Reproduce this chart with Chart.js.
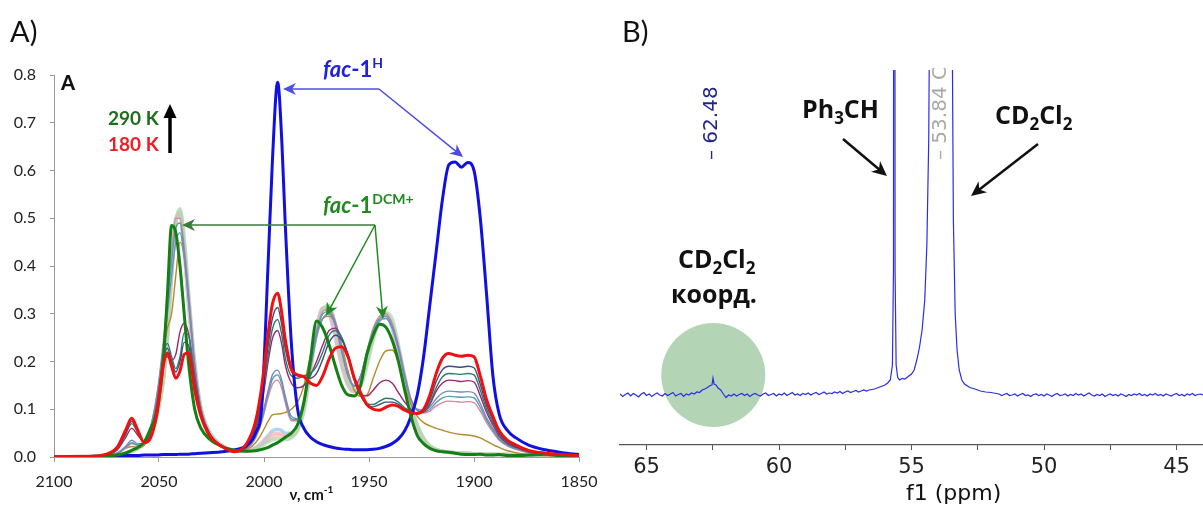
<!DOCTYPE html>
<html>
<head>
<meta charset="utf-8">
<script src="https://cdn.jsdelivr.net/npm/chart.js@4.4.1/dist/chart.umd.min.js"></script>
<style>
    html, body { margin: 0; padding: 0; background: #fff; }
    #wrap { position: relative; width: 1203px; height: 506px; overflow: hidden; }
    #irBox { position: absolute; left: 0; top: 0; width: 600px; height: 506px; }
    #nmrBox { position: absolute; left: 600px; top: 0; width: 603px; height: 506px; }
</style>
</head>
<body>
<div id="wrap">
    <div id="irBox"><canvas id="irChart"></canvas></div>
    <div id="nmrBox"><canvas id="nmrChart"></canvas></div>
</div>
<script>
// --- A) IR spectra: absorbance vs wavenumber (cm-1) ---
const wavenumbers = [2100, 2085, 2075, 2070, 2066, 2063, 2060, 2057, 2054, 2051,
    2048, 2046, 2044, 2042, 2040, 2038, 2036, 2033, 2030, 2026,
    2020, 2014, 2008, 2004, 2001, 1998, 1996, 1993.5, 1991.5, 1990,
    1987, 1984, 1981, 1978, 1975, 1972, 1969, 1966, 1963, 1960,
    1957, 1954, 1951, 1948, 1945, 1942, 1939, 1936, 1933, 1930,
    1927, 1924, 1921, 1918, 1915, 1912, 1909, 1906, 1903, 1900,
    1897, 1894, 1891, 1888, 1884, 1880, 1874, 1866, 1858, 1850];

// fac-1H (blue)
const irFac1H = [0, 0.001, 0.002, 0.002, 0.003, 0.003, 0.003, 0.004, 0.004, 0.004,
    0.005, 0.005, 0.005, 0.005, 0.006, 0.006, 0.006, 0.007, 0.008, 0.009,
    0.011, 0.015, 0.025, 0.05, 0.11, 0.41, 0.62, 0.785, 0.66, 0.5,
    0.24, 0.1, 0.06, 0.042, 0.032, 0.026, 0.022, 0.019, 0.017, 0.016,
    0.015, 0.015, 0.015, 0.016, 0.018, 0.022, 0.028, 0.038, 0.055, 0.085,
    0.13, 0.21, 0.32, 0.43, 0.54, 0.612, 0.618, 0.607, 0.617, 0.6,
    0.5, 0.34, 0.17, 0.09, 0.055, 0.04, 0.025, 0.015, 0.009, 0.005];

// 290 K (green)
const ir290K = [0, 0.001, 0.002, 0.004, 0.008, 0.014, 0.02, 0.032, 0.06, 0.095,
    0.2, 0.34, 0.485, 0.47, 0.4, 0.3, 0.2, 0.1, 0.06, 0.038,
    0.022, 0.014, 0.012, 0.013, 0.016, 0.02, 0.025, 0.03, 0.036, 0.041,
    0.05, 0.068, 0.115, 0.2, 0.285, 0.27, 0.235, 0.19, 0.15, 0.13,
    0.128, 0.15, 0.215, 0.255, 0.278, 0.272, 0.245, 0.2, 0.14, 0.085,
    0.045, 0.028, 0.018, 0.013, 0.011, 0.01, 0.008, 0.006, 0.005, 0.005,
    0.006, 0.004, 0.004, 0.005, 0.003, 0.003, 0.004, 0.006, 0.002, 0.002];

// 180 K (red)
const ir180K = [0, 0.001, 0.006, 0.02, 0.055, 0.081, 0.055, 0.03, 0.04, 0.09,
    0.19, 0.218, 0.19, 0.165, 0.18, 0.215, 0.218, 0.14, 0.085, 0.045,
    0.022, 0.011, 0.03, 0.075, 0.15, 0.26, 0.32, 0.343, 0.3, 0.25,
    0.185, 0.172, 0.168, 0.155, 0.15, 0.17, 0.205, 0.228, 0.231, 0.21,
    0.165, 0.135, 0.11, 0.1, 0.098, 0.104, 0.109, 0.106, 0.098, 0.093,
    0.091, 0.1, 0.13, 0.175, 0.207, 0.217, 0.213, 0.211, 0.213, 0.21,
    0.17, 0.12, 0.085, 0.055, 0.035, 0.025, 0.014, 0.008, 0.005, 0.003];

// intermediate temperatures (thin lines)
const irSlate = [0, 0.001, 0.005, 0.018, 0.05, 0.075, 0.052, 0.03, 0.042, 0.095,
    0.2, 0.228, 0.2, 0.178, 0.2, 0.24, 0.235, 0.15, 0.088, 0.046,
    0.022, 0.011, 0.026, 0.065, 0.13, 0.235, 0.29, 0.313, 0.275, 0.23,
    0.18, 0.17, 0.168, 0.165, 0.175, 0.205, 0.24, 0.255, 0.245, 0.215,
    0.165, 0.13, 0.11, 0.105, 0.11, 0.115, 0.115, 0.11, 0.1, 0.094,
    0.091, 0.097, 0.12, 0.158, 0.183, 0.19, 0.189, 0.188, 0.19, 0.187,
    0.152, 0.108, 0.078, 0.05, 0.032, 0.022, 0.013, 0.007, 0.004, 0.002];
const irTealDark = [0, 0.001, 0.005, 0.016, 0.046, 0.07, 0.05, 0.03, 0.045, 0.1,
    0.21, 0.238, 0.21, 0.185, 0.21, 0.26, 0.255, 0.16, 0.09, 0.047,
    0.022, 0.011, 0.024, 0.06, 0.12, 0.215, 0.268, 0.288, 0.255, 0.21,
    0.17, 0.165, 0.17, 0.175, 0.19, 0.22, 0.255, 0.265, 0.25, 0.215,
    0.165, 0.128, 0.112, 0.11, 0.117, 0.123, 0.122, 0.115, 0.103, 0.095,
    0.091, 0.095, 0.113, 0.145, 0.168, 0.175, 0.174, 0.173, 0.175, 0.172,
    0.14, 0.1, 0.072, 0.047, 0.03, 0.021, 0.012, 0.007, 0.004, 0.002];
const irPurple = [0, 0.001, 0.004, 0.014, 0.04, 0.06, 0.045, 0.032, 0.05, 0.11,
    0.2, 0.21, 0.203, 0.215, 0.262, 0.28, 0.26, 0.17, 0.095, 0.05,
    0.023, 0.012, 0.022, 0.055, 0.11, 0.2, 0.248, 0.265, 0.235, 0.195,
    0.155, 0.145, 0.15, 0.17, 0.2, 0.235, 0.265, 0.27, 0.25, 0.21,
    0.16, 0.13, 0.128, 0.14, 0.155, 0.161, 0.155, 0.135, 0.115, 0.1,
    0.092, 0.094, 0.11, 0.138, 0.155, 0.161, 0.16, 0.158, 0.16, 0.157,
    0.128, 0.093, 0.067, 0.044, 0.028, 0.02, 0.011, 0.006, 0.004, 0.002];
const irLavender = [0, 0.001, 0.003, 0.008, 0.022, 0.035, 0.028, 0.03, 0.06, 0.12,
    0.22, 0.3, 0.38, 0.45, 0.47, 0.42, 0.33, 0.19, 0.1, 0.05,
    0.022, 0.012, 0.02, 0.045, 0.085, 0.14, 0.172, 0.182, 0.16, 0.13,
    0.085, 0.08, 0.11, 0.18, 0.25, 0.29, 0.3, 0.275, 0.22, 0.17,
    0.15, 0.17, 0.215, 0.26, 0.285, 0.29, 0.27, 0.225, 0.165, 0.12,
    0.1, 0.098, 0.105, 0.122, 0.134, 0.138, 0.137, 0.136, 0.137, 0.134,
    0.112, 0.082, 0.06, 0.04, 0.026, 0.018, 0.01, 0.006, 0.003, 0.002];
const irTeal = [0, 0.001, 0.003, 0.007, 0.02, 0.03, 0.025, 0.03, 0.062, 0.125,
    0.23, 0.32, 0.41, 0.48, 0.49, 0.43, 0.34, 0.19, 0.1, 0.05,
    0.022, 0.012, 0.019, 0.042, 0.08, 0.133, 0.163, 0.172, 0.152, 0.123,
    0.08, 0.078, 0.115, 0.19, 0.26, 0.3, 0.305, 0.28, 0.225, 0.17,
    0.148, 0.17, 0.22, 0.265, 0.29, 0.295, 0.275, 0.23, 0.17, 0.12,
    0.098, 0.094, 0.1, 0.114, 0.124, 0.127, 0.126, 0.125, 0.126, 0.124,
    0.104, 0.077, 0.056, 0.037, 0.024, 0.017, 0.01, 0.006, 0.003, 0.002];
const irPink = [0, 0.001, 0.003, 0.006, 0.018, 0.028, 0.024, 0.03, 0.064, 0.13,
    0.24, 0.33, 0.43, 0.5, 0.5, 0.44, 0.35, 0.2, 0.1, 0.05,
    0.022, 0.012, 0.018, 0.04, 0.075, 0.125, 0.152, 0.161, 0.143, 0.116,
    0.076, 0.076, 0.118, 0.195, 0.265, 0.305, 0.31, 0.285, 0.23, 0.172,
    0.147, 0.168, 0.222, 0.27, 0.295, 0.3, 0.28, 0.235, 0.175, 0.122,
    0.097, 0.092, 0.096, 0.107, 0.114, 0.117, 0.116, 0.115, 0.116, 0.114,
    0.096, 0.072, 0.052, 0.035, 0.023, 0.016, 0.009, 0.005, 0.003, 0.002];
const irBrown = [0, 0.001, 0.003, 0.008, 0.018, 0.022, 0.02, 0.025, 0.06, 0.13,
    0.22, 0.27, 0.3, 0.38, 0.45, 0.42, 0.33, 0.19, 0.1, 0.05,
    0.022, 0.012, 0.016, 0.03, 0.05, 0.075, 0.088, 0.09, 0.091, 0.093,
    0.1, 0.115, 0.15, 0.21, 0.26, 0.29, 0.295, 0.28, 0.235, 0.18,
    0.14, 0.127, 0.13, 0.165, 0.2, 0.222, 0.224, 0.2, 0.15, 0.11,
    0.085, 0.072, 0.065, 0.06, 0.056, 0.052, 0.049, 0.047, 0.046, 0.044,
    0.04, 0.033, 0.026, 0.02, 0.013, 0.009, 0.005, 0.003, 0.002, 0.001];
// near-290 K spectra (pale, wide lines)
const irPaleBlue = [0, 0.001, 0.002, 0.004, 0.008, 0.013, 0.02, 0.03, 0.052, 0.095,
    0.17, 0.27, 0.4, 0.5, 0.505, 0.43, 0.32, 0.18, 0.095, 0.05,
    0.023, 0.013, 0.013, 0.02, 0.03, 0.045, 0.055, 0.058, 0.055, 0.05,
    0.05, 0.065, 0.11, 0.19, 0.27, 0.31, 0.3, 0.25, 0.19, 0.15,
    0.137, 0.155, 0.205, 0.255, 0.29, 0.295, 0.27, 0.21, 0.15, 0.1,
    0.06, 0.035, 0.022, 0.015, 0.012, 0.01, 0.009, 0.008, 0.008, 0.007,
    0.007, 0.006, 0.006, 0.005, 0.005, 0.004, 0.004, 0.003, 0.002, 0.002];
const irPalePeach = [0, 0.001, 0.002, 0.004, 0.008, 0.012, 0.018, 0.028, 0.048, 0.088,
    0.16, 0.25, 0.38, 0.49, 0.515, 0.45, 0.34, 0.19, 0.1, 0.052,
    0.024, 0.013, 0.012, 0.018, 0.026, 0.036, 0.042, 0.045, 0.043, 0.04,
    0.042, 0.058, 0.1, 0.18, 0.265, 0.312, 0.31, 0.262, 0.2, 0.155,
    0.138, 0.15, 0.198, 0.25, 0.288, 0.3, 0.28, 0.222, 0.16, 0.105,
    0.065, 0.038, 0.023, 0.016, 0.012, 0.01, 0.009, 0.008, 0.008, 0.007,
    0.007, 0.006, 0.006, 0.005, 0.005, 0.004, 0.004, 0.003, 0.002, 0.002];
const irPaleGreen = [0, 0.001, 0.002, 0.004, 0.008, 0.012, 0.018, 0.027, 0.046, 0.085,
    0.155, 0.245, 0.375, 0.49, 0.52, 0.46, 0.35, 0.2, 0.105, 0.054,
    0.024, 0.013, 0.012, 0.017, 0.024, 0.032, 0.036, 0.038, 0.037, 0.036,
    0.04, 0.055, 0.095, 0.175, 0.26, 0.31, 0.318, 0.275, 0.21, 0.16,
    0.14, 0.148, 0.19, 0.245, 0.285, 0.302, 0.29, 0.235, 0.17, 0.11,
    0.068, 0.04, 0.024, 0.016, 0.012, 0.01, 0.009, 0.008, 0.008, 0.007,
    0.007, 0.006, 0.006, 0.005, 0.005, 0.004, 0.004, 0.003, 0.002, 0.002];
const irPalePink = [0, 0.001, 0.002, 0.004, 0.008, 0.012, 0.019, 0.029, 0.05, 0.09,
    0.165, 0.26, 0.39, 0.495, 0.51, 0.44, 0.33, 0.185, 0.098, 0.05,
    0.023, 0.013, 0.012, 0.019, 0.028, 0.04, 0.048, 0.05, 0.048, 0.045,
    0.046, 0.06, 0.105, 0.185, 0.268, 0.312, 0.305, 0.255, 0.195, 0.152,
    0.137, 0.152, 0.2, 0.252, 0.289, 0.298, 0.275, 0.215, 0.155, 0.102,
    0.062, 0.036, 0.022, 0.015, 0.012, 0.01, 0.009, 0.008, 0.008, 0.007,
    0.007, 0.006, 0.006, 0.005, 0.005, 0.004, 0.004, 0.003, 0.002, 0.002];

// --- B) NMR trace: [chemical shift (ppm), intensity (a.u.)] ---
const nmrBaselineLeft = [
    [66.0, 0.02], [65.9, -0.03], [65.8, 0.01], [65.7, 0.04], [65.6, -0.02], [65.5, 0.03], [65.4, 0.0],
    [65.3, -0.04], [65.2, 0.02], [65.1, 0.05], [65.0, -0.01], [64.9, 0.02], [64.8, -0.03], [64.7, 0.01],
    [64.6, 0.04], [64.5, 0.0], [64.4, -0.02], [64.3, 0.03], [64.2, -0.01], [64.1, 0.02], [64.0, 0.05],
    [63.9, -0.02], [63.8, 0.01], [63.7, 0.03], [63.6, -0.03], [63.5, 0.02]];
const nmrCoordPeak = [
    [63.4, 0.0], [63.3, 0.04], [63.2, 0.02], [63.1, 0.06], [63.0, 0.05], [62.9, 0.1], [62.8, 0.12],
    [62.7, 0.15], [62.6, 0.19], [62.53, 0.2], [62.49, 0.34], [62.45, 0.22], [62.38, 0.2], [62.3, 0.14],
    [62.2, 0.1], [62.1, 0.02], [62.0, -0.05], [61.9, 0.0], [61.8, -0.02]];
const nmrBaselineMid = [
    [61.7, 0.02], [61.6, -0.02], [61.5, 0.01], [61.4, 0.03], [61.3, -0.01], [61.2, 0.02], [61.1, -0.03],
    [61.0, 0.01], [60.9, 0.03], [60.8, 0.0], [60.7, -0.02], [60.6, 0.02], [60.5, 0.04], [60.4, -0.01],
    [60.3, 0.01], [60.2, 0.03], [60.1, -0.02], [60.0, 0.02], [59.9, 0.0], [59.8, 0.04], [59.7, -0.01],
    [59.6, 0.02], [59.5, 0.05], [59.4, 0.0], [59.3, 0.02], [59.2, -0.01], [59.1, 0.03], [59.0, 0.01],
    [58.9, 0.04], [58.8, 0.0], [58.7, 0.03], [58.6, 0.05], [58.5, 0.01], [58.4, 0.03], [58.3, 0.06],
    [58.2, 0.02], [58.1, 0.04], [58.0, 0.03], [57.9, 0.06], [57.8, 0.04], [57.7, 0.07], [57.6, 0.03],
    [57.5, 0.06], [57.4, 0.08], [57.3, 0.05], [57.2, 0.07], [57.1, 0.09], [57.0, 0.06], [56.9, 0.08],
    [56.8, 0.1], [56.7, 0.08]];
const nmrSolventPeaks = [
    [56.6, 0.1], [56.4, 0.12], [56.2, 0.16], [56.0, 0.2], [55.9, 0.24], [55.8, 0.3], [55.72, 0.6],
    [55.68, 2.5], [55.65, 40], [55.62, 2.5], [55.58, 0.6], [55.52, 0.35], [55.45, 0.3], [55.35, 0.33],
    [55.25, 0.32], [55.15, 0.36], [55.0, 0.42], [54.9, 0.5], [54.8, 0.7], [54.7, 0.95], [54.6, 1.3],
    [54.5, 1.9], [54.42, 3.0], [54.35, 5.1], [54.3, 9], [54.2, 30], [54.0, 60], [53.84, 100],
    [53.7, 60], [53.55, 25], [53.47, 8], [53.42, 3.5], [53.35, 1.6], [53.28, 0.9], [53.2, 0.5],
    [53.1, 0.3], [53.0, 0.22], [52.8, 0.15], [52.6, 0.12], [52.4, 0.08], [52.2, 0.06], [52.0, 0.05],
    [51.8, 0.03]];
const nmrBaselineRight = [
    [51.7, 0.02], [51.6, -0.01], [51.5, 0.01], [51.4, 0.03], [51.3, -0.01], [51.2, 0.0], [51.1, 0.02],
    [51.0, -0.02], [50.9, 0.01], [50.8, 0.03], [50.7, -0.01], [50.6, 0.0], [50.5, -0.03], [50.4, 0.01],
    [50.3, 0.02], [50.2, -0.01], [50.1, 0.01], [50.0, -0.02], [49.9, 0.02], [49.8, 0.0], [49.7, -0.03],
    [49.6, 0.01], [49.5, 0.03], [49.4, -0.01], [49.3, 0.0], [49.2, 0.02], [49.1, -0.02], [49.0, 0.01],
    [48.9, -0.01], [48.8, 0.03], [48.7, 0.0], [48.6, 0.02], [48.5, -0.02], [48.4, 0.01], [48.3, 0.04],
    [48.2, 0.0], [48.1, -0.02], [48.0, 0.01], [47.9, -0.01], [47.8, 0.02], [47.7, -0.03], [47.6, 0.0],
    [47.5, 0.02], [47.4, -0.01], [47.3, 0.01], [47.2, -0.02], [47.1, 0.02], [47.0, 0.0], [46.9, -0.03],
    [46.8, 0.01], [46.7, -0.01], [46.6, 0.02], [46.5, 0.0], [46.4, 0.03], [46.3, -0.01], [46.2, 0.01],
    [46.1, -0.02], [46.0, 0.02], [45.9, 0.0], [45.8, 0.03], [45.7, -0.01], [45.6, 0.01], [45.5, -0.02],
    [45.4, 0.02], [45.3, 0.0], [45.2, -0.02], [45.1, 0.01], [45.0, 0.03], [44.9, -0.01], [44.8, 0.01],
    [44.7, -0.02], [44.6, 0.02], [44.5, 0.0], [44.4, 0.03], [44.3, -0.01], [44.2, 0.01], [44.1, 0.02],
    [44.0, 0.0]];

// --- Helpers ---
const toPoints = (xs, ys) => xs.map((x, i) => ({ x, y: ys[i] }));

function irLine(values, color, width, order) {
    return {
        data: toPoints(wavenumbers, values),
        borderColor: color,
        borderWidth: width,
        pointRadius: 0,
        fill: false,
        cubicInterpolationMode: 'monotone',
        order,
    };
}

function drawRich(ctx, x, y, parts, color) {
    ctx.save();
    ctx.fillStyle = color;
    ctx.textAlign = 'left';
    ctx.textBaseline = 'alphabetic';
    for (const p of parts) {
        ctx.font = p.font;
        ctx.fillText(p.t, x, y + (p.dy || 0));
        x += ctx.measureText(p.t).width;
    }
    ctx.restore();
}

function arrow(ctx, x1, y1, x2, y2, color, lw, len, half) {
    const a = Math.atan2(y2 - y1, x2 - x1);
    const c = Math.cos(a), s = Math.sin(a);
    ctx.save();
    ctx.strokeStyle = color;
    ctx.fillStyle = color;
    ctx.lineWidth = lw;
    ctx.beginPath();
    ctx.moveTo(x1, y1);
    ctx.lineTo(x2 - c * len * 0.6, y2 - s * len * 0.6);
    ctx.stroke();
    ctx.beginPath();
    ctx.moveTo(x2, y2);
    ctx.lineTo(x2 - c * len + s * half, y2 - s * len - c * half);
    ctx.lineTo(x2 - c * len * 0.7, y2 - s * len * 0.7);
    ctx.lineTo(x2 - c * len - s * half, y2 - s * len + c * half);
    ctx.closePath();
    ctx.fill();
    ctx.restore();
}

function vText(ctx, text, cx, bottomY, font, color) {
    ctx.save();
    ctx.translate(cx, bottomY);
    ctx.rotate(-Math.PI / 2);
    ctx.font = font;
    ctx.fillStyle = color;
    ctx.textAlign = 'left';
    ctx.textBaseline = 'middle';
    ctx.fillText(text, 0, 0);
    ctx.restore();
}

// --- Panel A annotations ---
const irNotes = {
    id: 'irNotes',
    afterDraw(chart) {
        const ctx = chart.ctx;
        const B = 'bold ', LATO = 'Lato, "Open Sans", sans-serif';

        drawRich(ctx, 10, 42, [{ t: 'A)', font: '29px ' + LATO }], '#111');
        drawRich(ctx, 61, 90, [{ t: 'A', font: '900 20px ' + LATO }], '#111');
        drawRich(ctx, 108, 125, [{ t: '290 K', font: B + '19px ' + LATO }], '#1d6e1d');
        drawRich(ctx, 108, 151, [{ t: '180 K', font: B + '19px ' + LATO }], '#ee1c24');

        // temperature arrow
        ctx.save();
        ctx.strokeStyle = '#000';
        ctx.fillStyle = '#000';
        ctx.lineWidth = 3.5;
        ctx.beginPath(); ctx.moveTo(170, 153); ctx.lineTo(170, 114); ctx.stroke();
        ctx.beginPath(); ctx.moveTo(163.5, 118); ctx.lineTo(176.5, 118); ctx.lineTo(170, 104); ctx.closePath(); ctx.fill();
        ctx.restore();

        // fac-1H
        drawRich(ctx, 323, 77, [
            { t: 'fac', font: 'italic bold 22px ' + LATO },
            { t: '-1', font: B + '22px ' + LATO },
            { t: 'H', font: B + '14px ' + LATO, dy: -9 },
        ], '#2020dd');
        arrow(ctx, 379, 89, 283, 89, '#4c4ce2', 1.5, 13, 6);
        arrow(ctx, 379, 89, 463, 157, '#4c4ce2', 1.5, 13, 6);

        // fac-1DCM+
        drawRich(ctx, 323, 213, [
            { t: 'fac', font: 'italic bold 22px ' + LATO },
            { t: '-1', font: B + '22px ' + LATO },
            { t: 'DCM+', font: B + '14px ' + LATO, dy: -9 },
        ], '#1f8a1f');
        arrow(ctx, 375, 225, 182, 225, '#3b7b3b', 1.5, 13, 6);
        arrow(ctx, 375, 225, 326, 316, '#238a23', 1.5, 13, 6);
        arrow(ctx, 375, 225, 383, 319, '#238a23', 1.5, 13, 6);

        // axis title
        const ca = chart.chartArea;
        const cx = (ca.left + ca.right) / 2 - 5;
        ctx.save();
        ctx.font = B + '15px ' + LATO;
        const w1 = ctx.measureText('ν, cm').width;
        ctx.font = B + '10px ' + LATO;
        const w2 = ctx.measureText('-1').width;
        ctx.restore();
        drawRich(ctx, cx - (w1 + w2) / 2, 500, [
            { t: 'ν, cm', font: B + '15px ' + LATO },
            { t: '-1', font: B + '10px ' + LATO, dy: -7 },
        ], '#111');
    },
};

// --- Panel B annotations ---
const nmrNotes = {
    id: 'nmrNotes',
    beforeDatasetsDraw(chart) {
        const ctx = chart.ctx;
        const x = chart.scales.x.getPixelForValue(62.48);
        ctx.save();
        ctx.fillStyle = '#b3d5b5';
        ctx.beginPath();
        ctx.arc(x, 375, 52, 0, Math.PI * 2);
        ctx.fill();
        ctx.restore();
    },
    afterDraw(chart) {
        const ctx = chart.ctx;
        const OS = '"Open Sans", Lato, sans-serif';
        const DV = '"DejaVu Sans", sans-serif';
        const sx = chart.scales.x;

        drawRich(ctx, 22, 42, [{ t: 'B)', font: '29px Lato, ' + OS }], '#111');

        vText(ctx, '– 62.48', sx.getPixelForValue(62.48) - 1, 160, '20px ' + DV, '#24248e');
        ctx.save();
        ctx.beginPath();
        ctx.rect(0, chart.chartArea.top - 2, chart.width, chart.height);
        ctx.clip();
        vText(ctx, '– 53.84 CD2Cl2', sx.getPixelForValue(53.84) - 1, 160, '20px ' + DV, '#a9a9a9');
        ctx.restore();

        const big = 'bold 25px ' + OS, sub = 'bold 17px ' + OS;
        drawRich(ctx, 202, 118, [
            { t: 'Ph', font: big }, { t: '3', font: sub, dy: 6 }, { t: 'CH', font: big },
        ], '#111');
        arrow(ctx, 243, 139, 287, 176, '#111', 2.5, 15, 7);

        drawRich(ctx, 395, 124, [
            { t: 'CD', font: big }, { t: '2', font: sub, dy: 6 },
            { t: 'Cl', font: big }, { t: '2', font: sub, dy: 6 },
        ], '#111');
        arrow(ctx, 438, 144, 371, 196, '#111', 2.5, 15, 7);

        drawRich(ctx, 78, 268, [
            { t: 'CD', font: big }, { t: '2', font: sub, dy: 6 },
            { t: 'Cl', font: big }, { t: '2', font: sub, dy: 6 },
        ], '#111');
        drawRich(ctx, 71, 303, [{ t: 'коорд.', font: big }], '#111');

        drawRich(ctx, 306, 500, [{ t: 'f1 (ppm)', font: '22px ' + DV }], '#111');
    },
};

// --- Chart A ---
new Chart(document.getElementById('irChart'), {
    type: 'line',
    data: {
        datasets: [
            irLine(irPaleBlue, 'rgba(150, 200, 230, 0.75)', 3.5, 20),
            irLine(irPalePeach, 'rgba(245, 200, 160, 0.75)', 3.5, 19),
            irLine(irPalePink, 'rgba(244, 180, 196, 0.75)', 3.5, 18),
            irLine(irPaleGreen, 'rgba(168, 218, 180, 0.75)', 3.5, 17),
            irLine(irBrown, '#b38b2e', 1.4, 12),
            irLine(irPink, '#e4849e', 1.4, 11),
            irLine(irTeal, '#4aa3a8', 1.4, 10),
            irLine(irLavender, '#7d85c6', 1.4, 9),
            irLine(irPurple, '#a0236b', 1.4, 8),
            irLine(irTealDark, '#2b7a72', 1.4, 7),
            irLine(irSlate, '#3e4a7e', 1.4, 6),
            irLine(irFac1H, '#1010e0', 3, 3),
            irLine(ir290K, '#128012', 3, 2),
            irLine(ir180K, '#f01010', 3, 1),
        ],
    },
    options: {
        responsive: true,
        maintainAspectRatio: false,
        animation: false,
        devicePixelRatio: 1,
        layout: { padding: { left: 0, right: 21, top: 75, bottom: 0 } },
        plugins: { legend: { display: false }, tooltip: { enabled: false } },
        scales: {
            x: {
                type: 'linear',
                reverse: true,
                min: 1850,
                max: 2100,
                afterFit: s => { s.height = 49; s.paddingLeft = 0; s.paddingRight = 0; },
                ticks: {
                    stepSize: 50,
                    maxRotation: 0,
                    padding: 10,
                    color: '#222',
                    font: { family: 'Lato', size: 16 },
                    callback: v => String(v),
                },
                grid: { display: true, drawOnChartArea: false, drawTicks: true, tickLength: 5, color: '#999' },
                border: { display: true, color: '#999', width: 1 },
            },
            y: {
                min: 0,
                max: 0.8,
                afterFit: s => { s.width = 54; s.paddingTop = 0; s.paddingBottom = 0; },
                ticks: {
                    stepSize: 0.1,
                    padding: 14,
                    color: '#222',
                    font: { family: 'Lato', size: 16 },
                    callback: v => v.toFixed(1),
                },
                grid: { display: true, drawOnChartArea: false, drawTicks: true, tickLength: 4, color: '#999' },
                border: { display: true, color: '#999', width: 1 },
            },
        },
    },
    plugins: [irNotes],
});

// --- Chart B ---
const nmrTrace = [...nmrBaselineLeft, ...nmrCoordPeak, ...nmrBaselineMid, ...nmrSolventPeaks, ...nmrBaselineRight];

new Chart(document.getElementById('nmrChart'), {
    type: 'line',
    data: {
        datasets: [{
            data: nmrTrace.map(([x, y]) => ({ x, y })),
            borderColor: '#2c2ce8',
            borderWidth: 1.2,
            pointRadius: 0,
            tension: 0,
            fill: false,
        }],
    },
    options: {
        responsive: true,
        maintainAspectRatio: false,
        animation: false,
        devicePixelRatio: 1,
        layout: { padding: { left: 20, right: 0, top: 70, bottom: 0 } },
        plugins: { legend: { display: false }, tooltip: { enabled: false } },
        scales: {
            x: {
                type: 'linear',
                reverse: true,
                min: 44,
                max: 66,
                afterFit: s => { s.height = 61; },
                ticks: {
                    stepSize: 2.5,
                    includeBounds: false,
                    autoSkip: false,
                    maxRotation: 0,
                    padding: 5,
                    color: '#222',
                    font: { family: 'DejaVu Sans', size: 21 },
                    callback: v => (v % 5 === 0 ? String(v) : ''),
                },
                grid: { display: true, drawOnChartArea: false, drawTicks: true, tickLength: 5, color: '#555' },
                border: { display: true, color: '#555', width: 1.2 },
            },
            y: { display: false, min: -1, max: 6.5 },
        },
    },
    plugins: [nmrNotes],
});
</script>
</body>
</html>
